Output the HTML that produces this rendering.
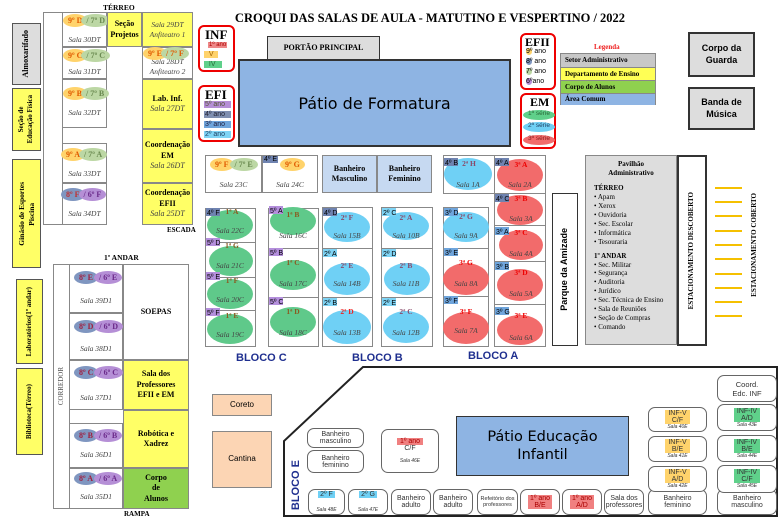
<!DOCTYPE html><html><head><meta charset="utf-8"><style>
*{margin:0;padding:0;box-sizing:border-box}
body{width:780px;height:520px;background:#fff;position:relative;overflow:hidden;font-family:"Liberation Serif",serif}
div{position:absolute}
.b{border:1px solid #888;background:#fff}
.y{background:#ffff66}
.g{background:#ddd;border:2px solid #333}
.c{display:flex;align-items:center;justify-content:center;text-align:center;font-weight:bold;font-size:8px;line-height:1.3}
.s{font-style:italic;font-size:7.5px;color:#444;text-align:center;width:100%}
.e{border-radius:50%}
.t{font-size:7px;font-family:"Liberation Sans",sans-serif;padding:0 1px;white-space:nowrap}
.v{writing-mode:vertical-rl;transform:rotate(180deg);font-weight:bold;font-size:8px;white-space:nowrap}
.r{border:1px solid #666;border-radius:7px;background:#fff;font-family:"Liberation Sans",sans-serif;font-size:7px;text-align:center;display:flex;flex-direction:column;align-items:center;justify-content:center;color:#333}
.bl{font-family:"Liberation Sans",sans-serif;font-weight:bold;color:#1f2f8f;font-size:11px}
.pair{font-size:8px;font-weight:bold;display:flex;white-space:nowrap}
.pair span{display:block;border-radius:50%;padding:2px 5px;white-space:nowrap}
.yl{height:2px;width:27px;background:#f5c000;left:715px}
</style></head><body>
<div style="left:0;width:780px;top:11px;text-align:center;padding-left:80px;font-weight:bold;font-size:12.5px">CROQUI DAS SALAS DE AULA - MATUTINO E VESPERTINO / 2022</div>

<div class="b g c" style="left:12px;top:23px;width:29px;height:62px;border:1px solid #555"><span class="v">Almoxarifado</span></div>
<div class="b y c" style="left:12px;top:88px;width:29px;height:63px;border:1px solid #555"><span class="v" style="font-size:7px">Seção de<br>Educação Física</span></div>
<div class="b y c" style="left:12px;top:159px;width:29px;height:109px;border:1px solid #555"><span class="v" style="font-size:7.5px">Ginásio de Esportes<br>Piscina</span></div>
<div class="b y c" style="left:16px;top:279px;width:27px;height:85px;border:1px solid #555"><span class="v" style="font-size:7px">Laboratórios(1º andar)</span></div>
<div class="b y c" style="left:16px;top:368px;width:27px;height:87px;border:1px solid #555"><span class="v" style="font-size:7px">Biblioteca(Térreo)</span></div>

<div style="left:103px;top:3px;font-size:7.5px;font-weight:bold">TÉRREO</div>
<div class="b" style="left:43px;top:12px;width:20px;height:213px"></div>
<div class="b" style="left:62px;top:12px;width:45px;height:35px"><div class="pair" style="left:0;top:1px;position:absolute"><span style="background:#ffd36b;color:#e05a00">9º D</span><span style="background:#bcd7a4;color:#6a8a50;margin-left:-6px">/ 7º D</span></div><div class="s" style="top:22px">Sala 30DT</div></div>
<div class="b" style="left:62px;top:47px;width:45px;height:32px"><div class="pair" style="left:0;top:1px;position:absolute"><span style="background:#ffd36b;color:#e05a00">9º C</span><span style="background:#bcd7a4;color:#6a8a50;margin-left:-6px">/ 7º C</span></div><div class="s" style="top:19px">Sala 31DT</div></div>
<div class="b" style="left:62px;top:79px;width:45px;height:49px"><div class="pair" style="left:0;top:7px;position:absolute"><span style="background:#ffd36b;color:#e05a00">9º B</span><span style="background:#bcd7a4;color:#6a8a50;margin-left:-6px">/ 7º B</span></div><div class="s" style="top:28px">Sala 32DT</div></div>
<div class="b" style="left:62px;top:143px;width:45px;height:40px"><div class="pair" style="left:-2px;top:4px;position:absolute"><span style="background:#ffd36b;color:#e05a00">9º A</span><span style="background:#bcd7a4;color:#6a8a50;margin-left:-6px">/ 7º A</span></div><div class="s" style="top:25px">Sala 33DT</div></div>
<div class="b" style="left:62px;top:183px;width:45px;height:42px"><div class="pair" style="left:-2px;top:4px;position:absolute"><span style="background:#7f96c0;color:#c03030">8º F</span><span style="background:#b58fd6;color:#6b2a8a;margin-left:-6px">/ 6º F</span></div><div class="s" style="top:25px">Sala 34DT</div></div>
<div class="b y c" style="left:107px;top:12px;width:35px;height:35px">Seção<br>Projetos</div>
<div class="b y c" style="left:142px;top:12px;width:51px;height:35px;font-weight:normal;font-style:italic;font-size:7.5px;color:#444">Sala 29DT<br>Anfiteatro 1</div>
<div class="b c" style="left:142px;top:47px;width:51px;height:32px;font-weight:normal;font-style:italic;font-size:7.5px;color:#444;padding-top:8px">Sala 28DT<br>Anfiteatro 2</div>
<div class="pair" style="left:143px;top:47px"><span style="background:#ffd36b;color:#e05a00">9º E</span><span style="background:#bcd7a4;color:#e05a00;margin-left:-6px">/ 7º F</span></div>
<div class="b y c" style="left:142px;top:79px;width:51px;height:50px"><span>Lab. Inf.<br><i style="font-weight:normal;color:#444">Sala 27DT</i></span></div>
<div class="b y c" style="left:142px;top:129px;width:51px;height:54px"><span>Coordenação<br>EM<br><i style="font-weight:normal;color:#444">Sala 26DT</i></span></div>
<div class="b y c" style="left:142px;top:183px;width:51px;height:42px"><span>Coordenação<br>EFII<br><i style="font-weight:normal;color:#444">Sala 25DT</i></span></div>
<div style="left:167px;top:226px;font-size:7px;font-weight:bold">ESCADA</div>

<div style="left:104px;top:253px;font-size:7.5px;font-weight:bold">1º ANDAR</div>
<div class="b c" style="left:53px;top:264px;width:17px;height:245px;font-weight:normal"><span class="v" style="font-weight:normal;font-size:7px;color:#555">CORREDOR</span></div>
<div class="b" style="left:69px;top:264px;width:54px;height:49px"><div class="pair" style="left:4px;top:6px;position:absolute"><span style="background:#7f96c0;color:#a02040">8º E</span><span style="background:#b58fd6;color:#6b2a8a;margin-left:-4px">/ 6º E</span></div><div class="s" style="top:31px">Sala 39D1</div></div>
<div class="b" style="left:69px;top:313px;width:54px;height:47px"><div class="pair" style="left:4px;top:6px;position:absolute"><span style="background:#7f96c0;color:#a02040">8º D</span><span style="background:#b58fd6;color:#6b2a8a;margin-left:-4px">/ 6º D</span></div><div class="s" style="top:30px">Sala 38D1</div></div>
<div class="b" style="left:69px;top:360px;width:54px;height:50px"><div class="pair" style="left:4px;top:5px;position:absolute"><span style="background:#7f96c0;color:#a02040">8º C</span><span style="background:#b58fd6;color:#6b2a8a;margin-left:-4px">/ 6º C</span></div><div class="s" style="top:32px">Sala 37D1</div></div>
<div class="b" style="left:69px;top:423px;width:54px;height:45px"><div class="pair" style="left:4px;top:5px;position:absolute"><span style="background:#7f96c0;color:#a02040">8º B</span><span style="background:#b58fd6;color:#6b2a8a;margin-left:-4px">/ 6º B</span></div><div class="s" style="top:26px">Sala 36D1</div></div>
<div class="b" style="left:69px;top:468px;width:54px;height:41px"><div class="pair" style="left:4px;top:3px;position:absolute"><span style="background:#7f96c0;color:#a02040">8º A</span><span style="background:#b58fd6;color:#6b2a8a;margin-left:-4px">/ 6º A</span></div><div class="s" style="top:23px">Sala 35D1</div></div>
<div class="b c" style="left:123px;top:264px;width:66px;height:96px">SOEPAS</div>
<div class="b y c" style="left:123px;top:360px;width:66px;height:50px">Sala dos<br>Professores<br>EFII e EM</div>
<div class="b y c" style="left:123px;top:410px;width:66px;height:58px">Robótica e<br>Xadrez</div>
<div class="b c" style="left:123px;top:468px;width:66px;height:41px;background:#8fd14f">Corpo<br>de<br>Alunos</div>
<div style="left:124px;top:510px;font-size:7px;font-weight:bold">RAMPA</div>

<div style="left:198px;top:25px;width:37px;height:47px;border:2px solid #e00;border-radius:6px">
<div style="left:5px;top:0;font-size:13px;font-weight:bold">INF</div>
<div class="t" style="left:8px;top:15px;background:#e88;color:#a00;font-size:6px">1º ano</div>
<div class="t" style="left:4px;top:24px;background:#ffd36b;color:#a06000">&nbsp;&nbsp;V&nbsp;&nbsp;</div>
<div class="t" style="left:4px;top:34px;background:#5fd08a;color:#2a6a3a">&nbsp;&nbsp;IV&nbsp;&nbsp;&nbsp;</div></div>
<div style="left:198px;top:85px;width:37px;height:57px;border:2px solid #e00;border-radius:6px">
<div style="left:5px;top:0;font-size:13px;font-weight:bold">EFI</div>
<div class="t" style="left:4px;top:14px;width:27px;background:#b58fd6;color:#553">5º ano</div>
<div class="t" style="left:4px;top:24px;width:27px;background:#7f8fb0;color:#223">4º ano</div>
<div class="t" style="left:4px;top:34px;width:27px;background:#6fa5dc;color:#224">3º ano</div>
<div class="t" style="left:4px;top:44px;width:27px;background:#7fd4f5;color:#246">2º ano</div></div>

<div class="g c" style="left:267px;top:36px;width:113px;height:24px;border-width:1px">PORTÃO PRINCIPAL</div>
<div style="left:238px;top:59px;width:273px;height:88px;background:#8eb4e3;border:2px solid #333;display:flex;align-items:center;justify-content:center;font-family:'DejaVu Sans',sans-serif;font-size:16px">Pátio de Formatura</div>

<div style="left:520px;top:33px;width:36px;height:57px;border:2px solid #e00;border-radius:6px">
<div style="left:3px;top:0;font-size:12px;font-weight:bold">EFII</div>
<div class="t" style="left:3px;top:13px"><span style="background:#ffd36b;border-radius:50%">9º</span> ano</div>
<div class="t" style="left:3px;top:23px"><span style="background:#7f96c0;border-radius:50%">8º</span> ano</div>
<div class="t" style="left:3px;top:33px"><span style="background:#bcd7a4;border-radius:50%">7º</span> ano</div>
<div class="t" style="left:3px;top:43px"><span style="background:#b58fd6;border-radius:50%">6º</span>ano</div></div>
<div style="left:520px;top:93px;width:36px;height:56px;border:2px solid #e00;border-radius:6px">
<div style="left:8px;top:0;font-size:12px;font-weight:bold">EM</div>
<div class="t e" style="left:1px;top:15px;width:32px;height:10px;background:#5fd08a;color:#2a6a3a;font-size:6.5px;text-align:center">1ª série</div>
<div class="t e" style="left:1px;top:27px;width:32px;height:10px;background:#6fd0f5;color:#246;font-size:6.5px;text-align:center">2ª série</div>
<div class="t e" style="left:1px;top:40px;width:32px;height:10px;background:#f26b6b;color:#822;font-size:6.5px;text-align:center">3ª série</div></div>

<div style="left:594px;top:43px;font-size:7px;font-weight:bold;color:#e22">Legenda</div>
<div style="left:560px;top:53px;width:96px;height:52px;border:1px solid #888;font-size:7px;font-weight:bold">
<div style="left:0;top:0;width:94px;height:13px;background:#c8c8c8;padding:2px 4px">Setor Administrativo</div>
<div style="left:0;top:13px;width:94px;height:13px;background:#ffff55;padding:2px 4px;border-top:1px solid #888">Departamento de Ensino</div>
<div style="left:0;top:26px;width:94px;height:13px;background:#8fd14f;padding:2px 4px;border-top:1px solid #888">Corpo de Alunos</div>
<div style="left:0;top:39px;width:94px;height:12px;background:#8eb4e3;padding:1px 4px;border-top:1px solid #888">Área Comum</div></div>

<div class="g c" style="left:688px;top:32px;width:67px;height:45px;font-family:'Liberation Sans',sans-serif;font-size:9px">Corpo da<br>Guarda</div>
<div class="g c" style="left:688px;top:87px;width:67px;height:43px;font-family:'Liberation Sans',sans-serif;font-size:9px">Banda de<br>Música</div>

<div class="b" style="left:205px;top:155px;width:57px;height:38px"><div class="pair" style="left:4px;top:2px;position:absolute"><span style="background:#ffd36b;color:#e05a00">9º F</span><span style="background:#bcd7a4;color:#6a8a50;margin-left:-4px">/ 7º E</span></div><div class="s" style="top:24px">Sala 23C</div></div>
<div class="b" style="left:262px;top:155px;width:56px;height:38px"><div class="t" style="left:0;top:0;background:#6f83b0">4º E</div><div class="pair" style="left:17px;top:2px;position:absolute"><span style="background:#ffd36b;color:#e05a00">9º G</span></div><div class="s" style="top:24px">Sala 24C</div></div>
<div class="b c" style="left:322px;top:155px;width:55px;height:38px;background:#c6d9f1">Banheiro<br>Masculino</div>
<div class="b c" style="left:377px;top:155px;width:55px;height:38px;background:#c6d9f1">Banheiro<br>Feminino</div>

<svg style="position:absolute;left:0;top:0" width="780" height="520">
<g fill="none" stroke="#888" stroke-width="1">
<rect x="205.5" y="208.5" width="50" height="138"/><line x1="205" y1="242.5" x2="255" y2="242.5"/><line x1="205" y1="277.5" x2="255" y2="277.5"/><line x1="205" y1="310.5" x2="255" y2="310.5"/>
<rect x="268.5" y="208.5" width="50" height="138"/><line x1="268" y1="248.5" x2="318" y2="248.5"/><line x1="268" y1="297.5" x2="318" y2="297.5"/>
<rect x="322.5" y="207.5" width="50" height="139"/><line x1="322" y1="248.5" x2="372" y2="248.5"/><line x1="322" y1="297.5" x2="372" y2="297.5"/>
<rect x="381.5" y="207.5" width="51" height="139"/><line x1="381" y1="248.5" x2="432" y2="248.5"/><line x1="381" y1="297.5" x2="432" y2="297.5"/>
<rect x="443.5" y="155.5" width="102" height="38"/><line x1="494.5" y1="155" x2="494.5" y2="193"/>
<rect x="443.5" y="207.5" width="45" height="139"/><line x1="443" y1="248.5" x2="488" y2="248.5"/><line x1="443" y1="296.5" x2="488" y2="296.5"/>
<rect x="494.5" y="193.5" width="51" height="153"/><line x1="494" y1="225.5" x2="545" y2="225.5"/><line x1="494" y1="261.5" x2="545" y2="261.5"/><line x1="494" y1="304.5" x2="545" y2="304.5"/>
</g>
<g fill="#5fc98a">
<ellipse cx="230" cy="225" rx="23" ry="15"/><ellipse cx="231" cy="261" rx="22" ry="15"/><ellipse cx="230" cy="294" rx="23" ry="15"/><ellipse cx="230" cy="329" rx="23" ry="15"/>
<ellipse cx="293" cy="221" rx="23" ry="14"/><ellipse cx="293" cy="275" rx="23" ry="15"/><ellipse cx="293" cy="322" rx="23" ry="15"/>
</g>
<g fill="#6fd0f5">
<ellipse cx="347" cy="227" rx="23" ry="15"/><ellipse cx="347" cy="279" rx="23" ry="16"/><ellipse cx="347" cy="327" rx="24" ry="17"/>
<ellipse cx="406" cy="226" rx="23" ry="14"/><ellipse cx="407" cy="279" rx="23" ry="16"/><ellipse cx="406" cy="327" rx="23" ry="16"/>
<ellipse cx="468" cy="174" rx="24" ry="16"/><ellipse cx="466" cy="227" rx="23" ry="15"/>
</g>
<g fill="#f26b6b">
<ellipse cx="520" cy="175" rx="23" ry="16"/><ellipse cx="520" cy="210" rx="23" ry="15"/><ellipse cx="521" cy="245" rx="22" ry="15"/><ellipse cx="520" cy="285" rx="23" ry="16"/><ellipse cx="520" cy="330" rx="23" ry="15"/>
<ellipse cx="466" cy="279" rx="23" ry="16"/><ellipse cx="466" cy="328" rx="23" ry="16"/>
</g>
<g font-family="Liberation Serif" font-size="7.5" font-weight="bold" text-anchor="middle" fill="#8a5a20">
<text x="232" y="214">1ª A</text><text x="232" y="248">1ª G</text><text x="232" y="283">1ª F</text><text x="232" y="318">1ª E</text>
<text x="293" y="217">1ª B</text><text x="293" y="265">1ª C</text><text x="293" y="314">1ª D</text>
</g>
<g font-family="Liberation Serif" font-size="7.5" font-weight="bold" text-anchor="middle" fill="#8a4a6a">
<text x="347" y="220">2ª F</text><text x="347" y="268">2ª E</text><text x="347" y="314" fill="#e22">2ª D</text>
<text x="406" y="220">2ª A</text><text x="406" y="268">2ª B</text><text x="406" y="314">2ª C</text>
<text x="469" y="166">2ª H</text><text x="466" y="219">2ª G</text>
</g>
<g font-family="Liberation Serif" font-size="7.5" font-weight="bold" text-anchor="middle" fill="#e00">
<text x="521" y="167">3ª A</text><text x="521" y="201">3ª B</text><text x="521" y="235">3ª C</text><text x="521" y="275">3ª D</text><text x="521" y="318">3ª E</text>
<text x="466" y="265">3ª G</text><text x="466" y="314">3ª F</text>
</g>
<g font-family="Liberation Serif" font-size="7.5" font-style="italic" text-anchor="middle" fill="#444">
<text x="230" y="233">Sala 22C</text><text x="230" y="268">Sala 21C</text><text x="230" y="302">Sala 20C</text><text x="230" y="337">Sala 19C</text>
<text x="293" y="238">Sala 16C</text><text x="293" y="286">Sala 17C</text><text x="293" y="335">Sala 18C</text>
<text x="347" y="238">Sala 15B</text><text x="347" y="286">Sala 14B</text><text x="347" y="335">Sala 13B</text>
<text x="406" y="238">Sala 10B</text><text x="406" y="286">Sala 11B</text><text x="406" y="335">Sala 12B</text>
<text x="468" y="187">Sala 1A</text><text x="520" y="187">Sala 2A</text><text x="466" y="238">Sala 9A</text><text x="466" y="286">Sala 8A</text><text x="466" y="333">Sala 7A</text>
<text x="521" y="221">Sala 3A</text><text x="521" y="256">Sala 4A</text><text x="521" y="296">Sala 5A</text><text x="521" y="340">Sala 6A</text>
</g>
<g font-family="Liberation Sans" font-size="7">
<rect x="206" y="208" width="14" height="8" fill="#6f83b0"/><text x="207" y="215">4º F</text>
<rect x="206" y="238" width="14" height="8" fill="#b48fdc"/><text x="207" y="245">5º D</text>
<rect x="206" y="272" width="14" height="8" fill="#b48fdc"/><text x="207" y="279">5º E</text>
<rect x="206" y="308" width="14" height="8" fill="#b48fdc"/><text x="207" y="315">5º F</text>
<rect x="269" y="206" width="14" height="8" fill="#b48fdc"/><text x="270" y="213">5º A</text>
<rect x="269" y="248" width="14" height="8" fill="#b48fdc"/><text x="270" y="255">5º B</text>
<rect x="269" y="297" width="14" height="8" fill="#b48fdc"/><text x="270" y="304">5º C</text>
<rect x="323" y="208" width="14" height="8" fill="#6f83b0"/><text x="324" y="215">4º D</text>
<rect x="323" y="249" width="14" height="8" fill="#7fd4f5"/><text x="324" y="256">2º A</text>
<rect x="323" y="298" width="14" height="8" fill="#7fd4f5"/><text x="324" y="305">2º B</text>
<rect x="382" y="208" width="14" height="8" fill="#7fd4f5"/><text x="383" y="215">2º C</text>
<rect x="382" y="249" width="14" height="8" fill="#7fd4f5"/><text x="383" y="256">2º D</text>
<rect x="382" y="298" width="14" height="8" fill="#7fd4f5"/><text x="383" y="305">2º E</text>
<rect x="444" y="158" width="14" height="8" fill="#6f83b0"/><text x="445" y="165">4º B</text>
<rect x="495" y="158" width="14" height="8" fill="#6f83b0"/><text x="496" y="165">4º A</text>
<rect x="495" y="194" width="14" height="8" fill="#6f83b0"/><text x="496" y="201">4º C</text>
<rect x="495" y="227" width="14" height="8" fill="#6fa5dc"/><text x="496" y="234">3º A</text>
<rect x="495" y="262" width="14" height="8" fill="#6fa5dc"/><text x="496" y="269">3º B</text>
<rect x="495" y="307" width="14" height="8" fill="#6fa5dc"/><text x="496" y="314">3º G</text>
<rect x="444" y="208" width="14" height="8" fill="#6fa5dc"/><text x="445" y="215">3º D</text>
<rect x="444" y="248" width="14" height="8" fill="#6fa5dc"/><text x="445" y="255">3º E</text>
<rect x="444" y="296" width="14" height="8" fill="#6fa5dc"/><text x="445" y="303">3º F</text>
</g>
<polygon points="363,367 777,367 777,516 284,516 284,441" fill="none" stroke="#222" stroke-width="2"/>
</svg>

<div class="c" style="left:552px;top:193px;width:26px;height:153px;border:1px solid #333;background:#fff"><span class="v" style="font-family:'Liberation Sans',sans-serif;font-size:9px">Parque da Amizade</span></div>
<div class="bl" style="left:236px;top:352px">BLOCO C</div>
<div class="bl" style="left:352px;top:352px">BLOCO B</div>
<div class="bl" style="left:468px;top:350px">BLOCO A</div>

<div style="left:585px;top:155px;width:92px;height:190px;background:#ddd;border:1px solid #888;font-size:7px;font-weight:bold;padding:4px 0 0 8px;line-height:1.28">
<div style="position:static;text-align:center;margin-right:8px">Pavilhão<br>Administrativo</div>
<div style="position:static;margin-top:6px">TÉRREO</div>
<div style="position:static;font-weight:normal">• Apam<br>• Xerox<br>• Ouvidoria<br>• Sec. Escolar<br>• Informática<br>• Tesouraria</div>
<div style="position:static;margin-top:5px">1º ANDAR</div>
<div style="position:static;font-weight:normal">• Sec. Militar<br>• Segurança<br>• Auditoria<br>• Jurídico<br>• Sec. Técnica de Ensino<br>• Sala de Reuniões<br>• Seção de Compras<br>• Comando</div></div>
<div class="c" style="left:677px;top:155px;width:30px;height:191px;border:2px solid #333;background:#fff"><span class="v" style="font-size:7px">ESTACIONAMENTO DESCOBERTO</span></div>
<div class="yl" style="top:187px"></div><div class="yl" style="top:201px"></div><div class="yl" style="top:215px"></div><div class="yl" style="top:230px"></div><div class="yl" style="top:244px"></div><div class="yl" style="top:258px"></div><div class="yl" style="top:273px"></div><div class="yl" style="top:287px"></div><div class="yl" style="top:301px"></div><div class="yl" style="top:315px"></div>
<div class="c" style="left:748px;top:190px;width:14px;height:110px"><span class="v" style="font-size:7px">ESTACIONAMENTO COBERTO</span></div>

<div class="c" style="left:212px;top:394px;width:60px;height:22px;background:#fcd5b4;border:1px solid #888;font-family:'Liberation Sans',sans-serif;font-weight:normal">Coreto</div>
<div class="c" style="left:212px;top:431px;width:60px;height:57px;background:#fcd5b4;border:1px solid #888;font-family:'Liberation Sans',sans-serif;font-weight:normal">Cantina</div>

<div class="bl c" style="left:288px;top:455px;width:16px;height:60px"><span class="v" style="font-size:11px;font-family:'Liberation Sans',sans-serif;color:#1f2f8f">BLOCO E</span></div>
<div style="left:456px;top:416px;width:173px;height:60px;background:#8eb4e3;border:1px solid #333;display:flex;align-items:center;justify-content:center;text-align:center;font-family:'DejaVu Sans',sans-serif;font-size:14.5px;line-height:1.25">Pátio Educação<br>Infantil</div>
<div class="r" style="left:307px;top:428px;width:57px;height:20px">Banheiro<br>masculino</div>
<div class="r" style="left:307px;top:450px;width:57px;height:23px">Banheiro<br>feminino</div>
<div class="r" style="left:381px;top:429px;width:58px;height:44px"><span style="background:#f08080;color:#a00;padding:0 3px">1º ano</span>C/F<span style="font-size:5px;font-style:italic;margin-top:6px">Sala 46E</span></div>
<div class="r" style="left:308px;top:489px;width:37px;height:26px;justify-content:space-between;padding:1px"><span style="background:#6fd0f5;padding:0 2px">2º F</span><span style="font-size:5px;font-style:italic">Sala 48E</span></div>
<div class="r" style="left:348px;top:489px;width:40px;height:26px;justify-content:space-between;padding:1px"><span style="background:#6fd0f5;padding:0 2px">2º G</span><span style="font-size:5px;font-style:italic">Sala 47E</span></div>
<div class="r" style="left:391px;top:489px;width:40px;height:26px">Banheiro<br>adulto</div>
<div class="r" style="left:433px;top:489px;width:40px;height:26px">Banheiro<br>adulto</div>
<div class="r" style="left:477px;top:489px;width:41px;height:26px;font-size:5.5px">Refeitório dos<br>professores</div>
<div class="r" style="left:520px;top:489px;width:40px;height:26px"><span style="background:#f08080;color:#a00;padding:0 2px">1º ano<br>B/E</span></div>
<div class="r" style="left:562px;top:489px;width:40px;height:26px"><span style="background:#f08080;color:#a00;padding:0 2px">1º ano<br>A/D</span></div>
<div class="r" style="left:604px;top:489px;width:40px;height:26px">Sala dos<br>professores</div>
<div class="r" style="left:648px;top:489px;width:59px;height:26px">Banheiro<br>feminino</div>
<div class="r" style="left:717px;top:489px;width:60px;height:26px">Banheiro<br>masculino</div>
<div class="r" style="left:648px;top:407px;width:59px;height:25px"><span style="background:#ffd36b;padding:0 3px;line-height:1">INF-V<br>C/F</span><span style="font-size:5px;font-style:italic">Sala 40E</span></div>
<div class="r" style="left:648px;top:436px;width:59px;height:26px"><span style="background:#ffd36b;padding:0 3px;line-height:1">INF-V<br>B/E</span><span style="font-size:5px;font-style:italic">Sala 41E</span></div>
<div class="r" style="left:648px;top:466px;width:59px;height:26px"><span style="background:#ffd36b;padding:0 3px;line-height:1">INF-V<br>A/D</span><span style="font-size:5px;font-style:italic">Sala 42E</span></div>
<div class="r" style="left:717px;top:375px;width:60px;height:27px;font-size:7.5px">Coord.<br>Edc. INF</div>
<div class="r" style="left:717px;top:404px;width:60px;height:27px"><span style="background:#5fd08a;padding:0 3px;line-height:1">INF-IV<br>A/D</span><span style="font-size:5px;font-style:italic">Sala 43E</span></div>
<div class="r" style="left:717px;top:435px;width:60px;height:27px"><span style="background:#5fd08a;padding:0 3px;line-height:1">INF-IV<br>B/E</span><span style="font-size:5px;font-style:italic">Sala 44E</span></div>
<div class="r" style="left:717px;top:465px;width:60px;height:28px"><span style="background:#5fd08a;padding:0 3px;line-height:1">INF-IV<br>C/F</span><span style="font-size:5px;font-style:italic">Sala 45E</span></div>
</body></html>
